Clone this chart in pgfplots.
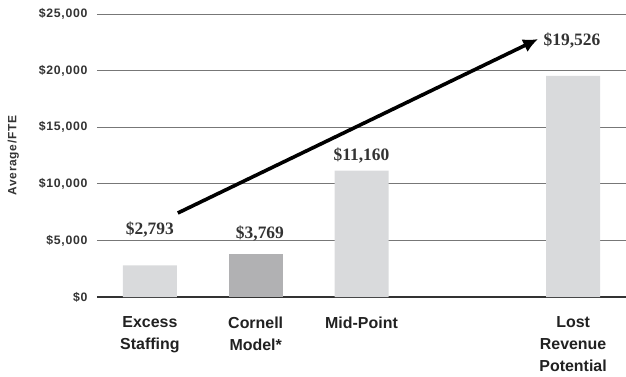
\documentclass[border=0pt]{standalone}
\usepackage{fontspec}
\usepackage{pgfplots}
\pgfplotsset{compat=1.18}
\usetikzlibrary{arrows.meta}
\setmainfont{Liberation Sans}
\newfontfamily\tickfont[LetterSpace=6]{Liberation Sans}
\newfontfamily\catfont{Liberation Sans}
\newfontfamily\valfont{Liberation Serif}
\definecolor{barlight}{HTML}{D9DADC}
\definecolor{bardark}{HTML}{B1B1B3}
\definecolor{gridgray}{HTML}{777777}
\definecolor{txtgray}{HTML}{333333}
\begin{document}
\begin{tikzpicture}
\begin{axis}[
  scale only axis,
  width=529bp, height=283bp,
  xmin=-0.5, xmax=4.5,
  ymin=0, ymax=25000,
  ytick={0,5000,10000,15000,20000,25000},
  scaled y ticks=false,
  xtick={0,1,2,4},
  xticklabels={{Excess\\Staffing},{Cornell\\Model*},{Mid-Point},{Lost\\Revenue\\Potential}},
  axis lines*=left,
  y axis line style={draw=none},
  x axis line style={draw=txtgray, line width=1.1pt},
  major tick length=0pt,
  ymajorgrids,
  grid style={draw=gridgray, line width=0.9pt},
  /pgf/number format/assume math mode=true,
  /pgf/number format/1000 sep={,},
  yticklabel={\$\pgfmathprintnumber{\tick}},
  yticklabel style={font=\tickfont\bfseries\fontsize{12.3}{14}\selectfont, text=txtgray, xshift=-6bp},
  xticklabel style={font=\catfont\bfseries\fontsize{16}{22}\selectfont, text=black!87, align=center, anchor=north, yshift=-16.5bp},
  ylabel={Average/FTE},
  every axis y label/.style={at={(axis description cs:-0.158,0.5)}, rotate=90, anchor=center,
    font=\tickfont\bfseries\fontsize{12}{14}\selectfont, text=txtgray},
  ybar, bar width=54bp,
  clip=false,
]
% light bars
\addplot[ybar, bar shift=0pt, fill=barlight, draw=none] coordinates {(0,2793) (2,11160) (4,19526)};
% Cornell model bar
\addplot[ybar, bar shift=0pt, fill=bardark, draw=none] coordinates {(1,3769)};
% trend arrow
\addplot[sharp plot, black, line width=3.6bp, -{Latex[length=15bp,width=14bp]}] coordinates {(0.264,7420) (3.67,22790)};
% value labels
\begin{scope}[every node/.style={font=\valfont\bfseries\fontsize{17.5}{19}\selectfont, text=txtgray}]
\node at (axis cs:0,2793) [yshift=36bp] {\$2,793};
\node at (axis cs:1.04,3769) [yshift=21bp] {\$3,769};
\node at (axis cs:2,11160) [yshift=15bp] {\$11,160};
\node at (axis cs:3.99,19526) [yshift=35bp] {\$19,526};
\end{scope}
\end{axis}
\pgfresetboundingbox
\path[use as bounding box] (current axis.south west) ++(-97bp,-80bp) rectangle ([yshift=14bp]current axis.north east);
\end{tikzpicture}
\end{document}
